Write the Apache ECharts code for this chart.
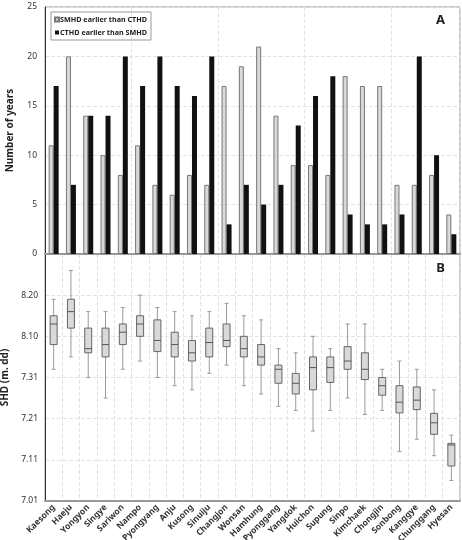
<!DOCTYPE html>
<html>
<head>
<meta charset="utf-8">
<script src="https://cdn.jsdelivr.net/npm/echarts@6/dist/echarts.min.js"></script>
<style>
  html, body { margin: 0; padding: 0; background: #fff; }
  #chart { width: 462px; height: 540px; }
</style>
</head>
<body>
<div id="chart"></div>
<script>
// stations, west -> east roughly as in the figure
const stations = ['Kaesong', 'Haeju', 'Yongyon', 'Singye', 'Sariwon', 'Nampo', 'Pyongyang', 'Anju',
  'Kusong', 'Sinuiju', 'Changjon', 'Wonsan', 'Hamhung', 'Pyonggang', 'Yangdok', 'Huichon',
  'Supung', 'Sinpo', 'Kimchaek', 'Chongjin', 'Sonbong', 'Kanggye', 'Chunggang', 'Hyesan'];

// panel A: number of years
const smhdEarlier = [11, 20, 14, 10, 8, 11, 7, 6, 8, 7, 17, 19, 21, 14, 9, 9, 8, 18, 17, 17, 7, 7, 8, 4];
const cthdEarlier = [17, 7, 14, 14, 20, 17, 20, 17, 16, 20, 3, 7, 5, 7, 13, 16, 18, 4, 3, 3, 4, 20, 10, 2];

// panel B: SHD as days after July 1
const shdLow    = [32, 35, 30, 25, 32, 34, 30, 28, 27, 31, 33, 28, 26, 23, 22, 17, 22, 25, 21, 22, 12, 15, 11, 5];
const shdQ1     = [38, 42, 36, 35, 38, 40, 36.3, 35, 34, 35, 37.5, 35, 33, 28.6, 26, 27, 28.8, 32, 29.5, 25.7, 21.4, 22.2, 16.2, 8.5];
const shdMedian = [43, 46, 37, 38, 41, 43, 39, 38, 36, 38.5, 39, 37, 35, 32, 28.6, 32.4, 32.4, 34, 32, 28, 24, 24.5, 19, 13.6];
const shdQ3     = [45, 49, 42, 42, 43, 45, 44, 41, 39, 42, 43, 40, 38, 33, 31, 35, 35, 37.5, 36, 30, 28, 27.7, 21.3, 14];
const shdHigh   = [49, 56, 46, 46, 47, 50, 47, 46, 45, 46, 48, 45, 44, 37, 36, 40, 37, 43, 43, 32, 34, 32, 27, 16];

const shdTicks = ['7.01', '7.11', '7.21', '7.31', '8.10', '8.20', ''];

const boxData = stations.map((s, i) => [i, shdLow[i], shdQ1[i], shdMedian[i], shdQ3[i], shdHigh[i]]);

const chart = echarts.init(document.getElementById('chart'));
const font = 'Noto Sans';
const gridLine = { show: true, lineStyle: { color: '#e3e3e3', type: 'dashed', width: 1 } };

function renderBox(params, api) {
  const x = api.value(0);
  const lo = api.coord([x, api.value(1)]);
  const q1 = api.coord([x, api.value(2)]);
  const md = api.coord([x, api.value(3)]);
  const q3 = api.coord([x, api.value(4)]);
  const hi = api.coord([x, api.value(5)]);
  const w = 7;
  const cap = 2;
  const cx = lo[0];
  const whisker = { stroke: '#9a9a9a', lineWidth: 1 };
  return {
    type: 'group',
    children: [
      { type: 'line', shape: { x1: cx, y1: hi[1], x2: cx, y2: lo[1] }, style: whisker },
      { type: 'line', shape: { x1: cx - cap, y1: hi[1], x2: cx + cap, y2: hi[1] }, style: whisker },
      { type: 'line', shape: { x1: cx - cap, y1: lo[1], x2: cx + cap, y2: lo[1] }, style: whisker },
      { type: 'rect', shape: { x: cx - w / 2, y: q3[1], width: w, height: q1[1] - q3[1] },
        style: { fill: '#d9d9d9', stroke: '#666', lineWidth: 1 } },
      { type: 'line', shape: { x1: cx - w / 2, y1: md[1], x2: cx + w / 2, y2: md[1] },
        style: { stroke: '#555', lineWidth: 1 } }
    ]
  };
}

const option = {
  animation: false,
  textStyle: { fontFamily: font },
  title: [
    { text: 'A', right: 12, top: 9, textStyle: { fontSize: 13, fontWeight: 'bold', color: '#222', fontFamily: font } },
    { text: 'B', right: 12, top: 257, textStyle: { fontSize: 13, fontWeight: 'bold', color: '#222', fontFamily: font } }
  ],
  legend: {
    orient: 'vertical',
    left: 51,
    top: 12,
    itemWidth: 4,
    itemHeight: 4,
    itemGap: 6,
    padding: [4, 4, 4, 3],
    borderColor: '#999',
    borderWidth: 1,
    icon: 'rect',
    textStyle: { fontSize: 7.2, fontWeight: 'bold', color: '#222', padding: [0, 0, 0, -4] },
    data: ['SMHD earlier than CTHD', 'CTHD eariler than SMHD']
  },
  grid: [
    { left: 45, right: 2, top: 7, height: 247, show: true, borderColor: '#999', borderWidth: 1, outerBoundsMode: 'none' },
    { left: 45, right: 2, top: 254, height: 247, show: true, borderColor: '#999', borderWidth: 1, outerBoundsMode: 'none' }
  ],
  xAxis: [
    {
      type: 'category', gridIndex: 0, data: stations,
      axisLine: { lineStyle: { color: '#999', width: 2 } },
      axisTick: { show: false }, axisLabel: { show: false },
      splitLine: gridLine
    },
    {
      type: 'category', gridIndex: 1, data: stations,
      axisLine: { lineStyle: { color: '#999', width: 2 } },
      axisTick: { show: false },
      axisLabel: { rotate: 45, fontSize: 8.5, fontWeight: 'bold', color: '#333', margin: 5, interval: 0 },
      splitLine: gridLine
    }
  ],
  yAxis: [
    {
      type: 'value', gridIndex: 0, min: 0, max: 25, interval: 5,
      name: 'Number of years', nameLocation: 'middle', nameGap: 30,
      nameTextStyle: { fontSize: 10, fontWeight: 'bold', color: '#222' },
      axisLine: { show: true, lineStyle: { color: '#333' } },
      axisTick: { show: false },
      axisLabel: { fontSize: 8.5, color: '#333', margin: 8 },
      splitLine: gridLine
    },
    {
      type: 'value', gridIndex: 1, min: 0, max: 60, interval: 10,
      name: 'SHD (m. dd)', nameLocation: 'middle', nameGap: 30,
      nameTextStyle: { fontSize: 10, fontWeight: 'bold', color: '#222' },
      axisLine: { show: true, lineStyle: { color: '#333' } },
      axisTick: { show: false },
      axisLabel: { fontSize: 8.5, color: '#333', margin: 7, formatter: (v) => shdTicks[Math.round(v / 10)] },
      splitLine: gridLine
    }
  ],
  series: [
    {
      name: 'SMHD earlier than CTHD', type: 'bar', xAxisIndex: 0, yAxisIndex: 0,
      data: smhdEarlier, barWidth: 5, barGap: '0%',
      itemStyle: { color: '#d9d9d9', borderColor: '#777', borderWidth: 1 }
    },
    {
      name: 'CTHD eariler than SMHD', type: 'bar', xAxisIndex: 0, yAxisIndex: 0,
      data: cthdEarlier, barWidth: 5, barGap: '0%',
      itemStyle: { color: '#111' }
    },
    {
      name: 'SHD', type: 'custom', xAxisIndex: 1, yAxisIndex: 1,
      renderItem: renderBox,
      encode: { x: 0, y: [1, 2, 3, 4, 5] },
      data: boxData
    }
  ]
};

chart.setOption(option);
</script>
</body>
</html>
